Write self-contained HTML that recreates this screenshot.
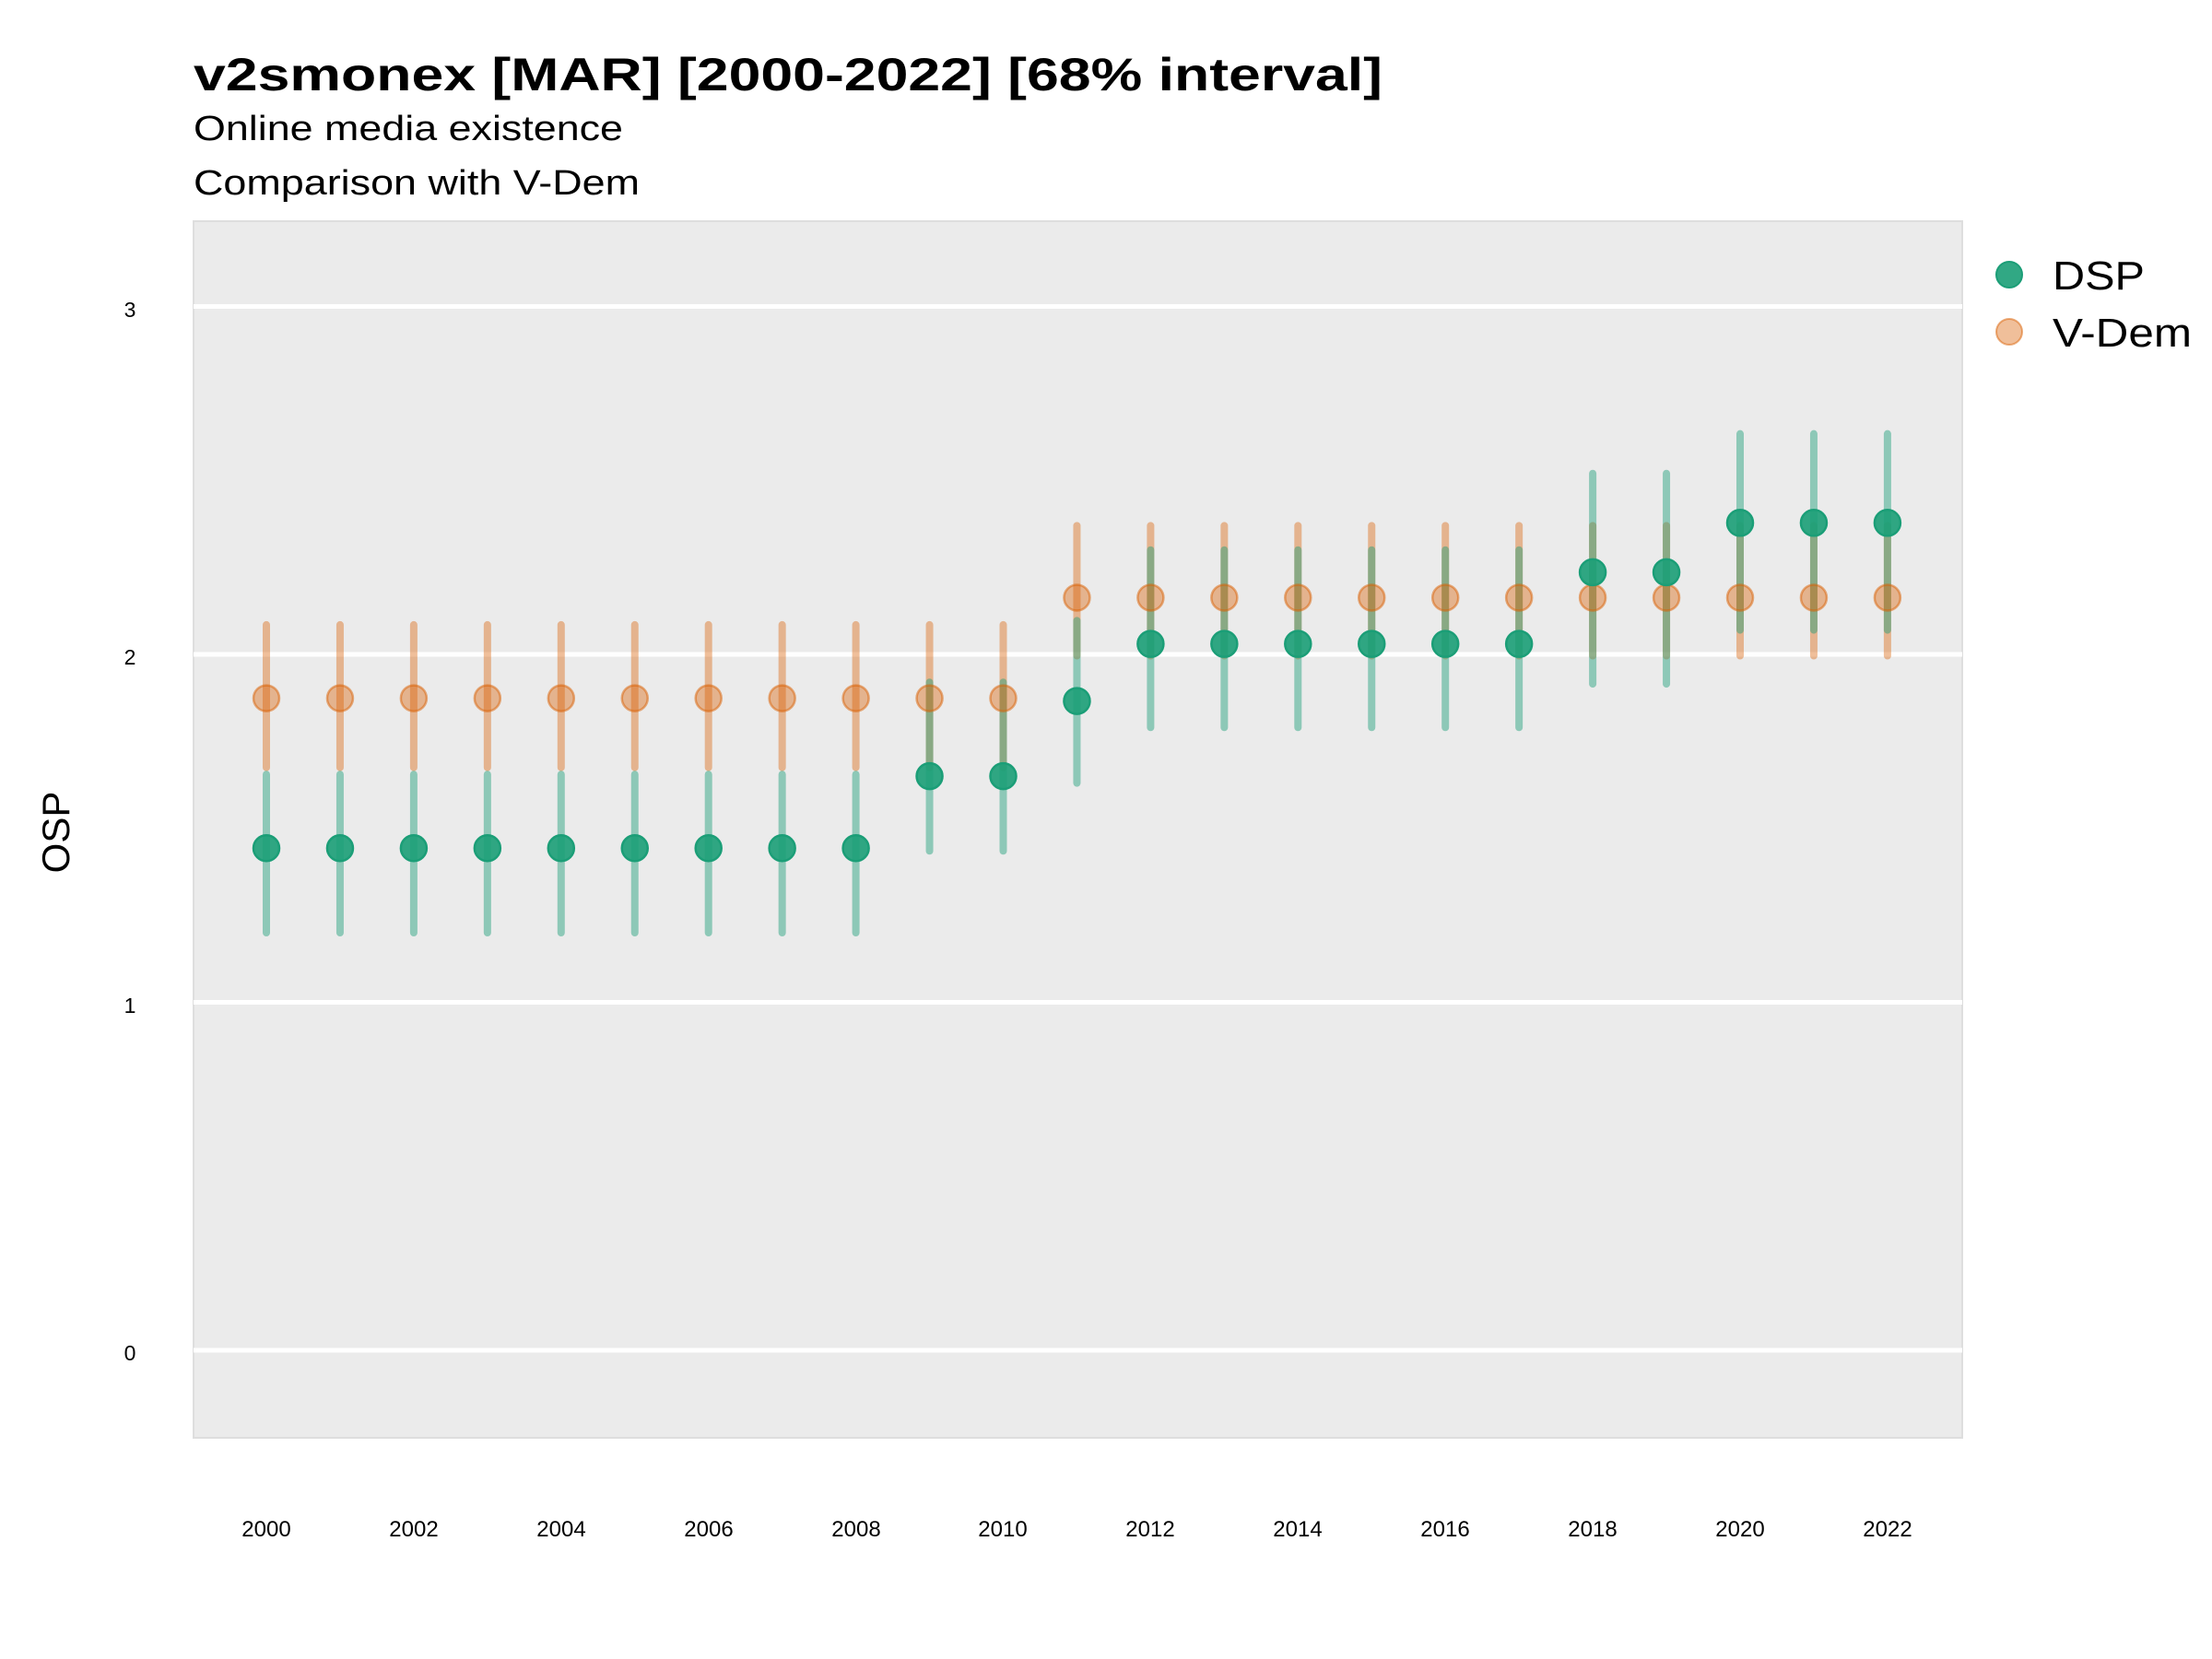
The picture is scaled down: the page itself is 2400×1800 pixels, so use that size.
<!DOCTYPE html>
<html><head><meta charset="utf-8"><style>
html,body{margin:0;padding:0;background:#fff;}
svg{display:block;font-family:"Liberation Sans",Arial,sans-serif;}
</style></head><body>
<svg id="s" width="2400" height="1800" viewBox="0 0 2400 1800" xmlns="http://www.w3.org/2000/svg">
<rect width="2400" height="1800" fill="#fff"/>
<text x="210" y="98" font-size="50" font-weight="bold" textLength="1290" lengthAdjust="spacingAndGlyphs">v2smonex [MAR] [2000-2022] [68% interval]</text>
<text x="210" y="152" font-size="38" textLength="466" lengthAdjust="spacingAndGlyphs">Online media existence</text>
<text x="210" y="211" font-size="38" textLength="484" lengthAdjust="spacingAndGlyphs">Comparison with V-Dem</text>
<rect x="210" y="240" width="1919" height="1320" fill="#ebebeb" stroke="#dedede" stroke-width="2"/>
<g stroke="#fff" stroke-width="5">
<line x1="210" x2="2129" y1="332.5" y2="332.5"/>
<line x1="210" x2="2129" y1="710" y2="710"/>
<line x1="210" x2="2129" y1="1087.5" y2="1087.5"/>
<line x1="210" x2="2129" y1="1465" y2="1465"/>
</g>
<g font-size="23" text-anchor="middle">
<text x="141" y="344">3</text><text x="141" y="721">2</text><text x="141" y="1099">1</text><text x="141" y="1476">0</text>
</g>
<text transform="translate(75,903) rotate(-90)" font-size="42" text-anchor="middle">OSP</text>
<g font-size="24" text-anchor="middle">
<text x="289" y="1667">2000</text><text x="449" y="1667">2002</text><text x="609" y="1667">2004</text><text x="769" y="1667">2006</text><text x="929" y="1667">2008</text><text x="1088" y="1667">2010</text><text x="1248" y="1667">2012</text><text x="1408" y="1667">2014</text><text x="1568" y="1667">2016</text><text x="1728" y="1667">2018</text><text x="1888" y="1667">2020</text><text x="2048" y="1667">2022</text>
</g>
<g id="marks"></g>
<circle cx="2180" cy="298" r="14" fill="#1b9e77" fill-opacity="0.9" stroke="#1b9e77" stroke-width="2"/>
<circle cx="2180" cy="360" r="14" fill="#d95f02" fill-opacity="0.4" stroke="#d95f02" stroke-opacity="0.5" stroke-width="2"/>
<text x="2227" y="314" font-size="44" textLength="100" lengthAdjust="spacingAndGlyphs">DSP</text>
<text x="2227" y="376" font-size="44" textLength="151" lengthAdjust="spacingAndGlyphs">V-Dem</text>
</svg>
<script>
var g=document.getElementById('marks'),NS='http://www.w3.org/2000/svg';
function X(y){return 289+79.95*(y-2000);}function Y(v){return 1465-377.5*v;}
function el(t,a){var e=document.createElementNS(NS,t);for(var k in a)e.setAttribute(k,a[k]);g.appendChild(e);}
var dsp=[],vd=[];
for(var y=2000;y<=2022;y++){
 var d;
 if(y<=2008)d=[1.443,1.2,1.655];else if(y<=2010)d=[1.65,1.435,1.92];else if(y==2011)d=[1.866,1.63,2.097];
 else if(y<=2017)d=[2.03,1.79,2.30];else if(y<=2019)d=[2.236,1.915,2.52];else d=[2.378,2.07,2.634];
 dsp.push([y].concat(d));
 vd.push(y<=2010?[y,1.874,1.675,2.085]:[y,2.163,1.996,2.37]);
}
vd.forEach(function(p){el('line',{x1:X(p[0]),x2:X(p[0]),y1:Y(p[2]),y2:Y(p[3]),stroke:'#d95f02','stroke-opacity':0.4,'stroke-width':8,'stroke-linecap':'round'});});
dsp.forEach(function(p){el('line',{x1:X(p[0]),x2:X(p[0]),y1:Y(p[2]),y2:Y(p[3]),stroke:'#1b9e77','stroke-opacity':0.45,'stroke-width':8,'stroke-linecap':'round'});});
vd.forEach(function(p){el('circle',{cx:X(p[0]),cy:Y(p[1]),r:14,fill:'#d95f02','fill-opacity':0.4,stroke:'#d95f02','stroke-opacity':0.5,'stroke-width':2.5});});
dsp.forEach(function(p){el('circle',{cx:X(p[0]),cy:Y(p[1]),r:14,fill:'#1b9e77','fill-opacity':0.9,stroke:'#1b9e77','stroke-width':2.5});});
</script>
</body></html>
